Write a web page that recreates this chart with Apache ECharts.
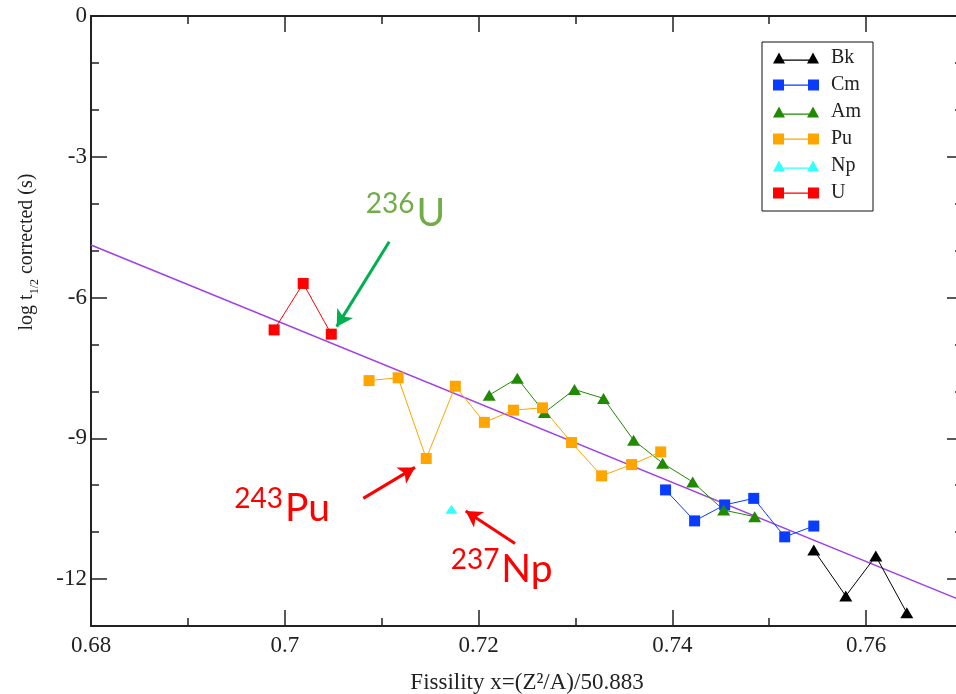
<!DOCTYPE html>
<html>
<head>
<meta charset="utf-8">
<script src="https://cdn.jsdelivr.net/npm/echarts@6/dist/echarts.min.js"></script>
<style>
  html, body { margin: 0; padding: 0; background: #fff; }
  #chart { width: 956px; height: 694px; }
</style>
</head>
<body>
<div id="chart"></div>
<script>
// Fissility x and corrected log half-life for each element's isotopes
const bkX = [0.7546, 0.7579, 0.7610, 0.7642];
const bkY = [-11.38, -12.36, -11.51, -12.72];
const cmX = [0.7393, 0.7423, 0.7454, 0.7484, 0.7516, 0.7546];
const cmY = [-10.10, -10.76, -10.42, -10.28, -11.10, -10.87];
const amX = [0.7211, 0.7240, 0.7268, 0.7299, 0.7329, 0.7360, 0.7390, 0.7421, 0.7453, 0.7485];
const amY = [-8.08, -7.72, -8.45, -7.96, -8.15, -9.04, -9.53, -9.93, -10.53, -10.67];
const puX = [0.7087, 0.7117, 0.7146, 0.7176, 0.7206, 0.7236, 0.7266, 0.7296, 0.7327, 0.7358, 0.7388];
const puY = [-7.77, -7.71, -9.43, -7.89, -8.66, -8.40, -8.35, -9.09, -9.80, -9.56, -9.29];
const npX = [0.7172];
const npY = [-10.51];
const uX = [0.6989, 0.7019, 0.7048];
const uY = [-6.69, -5.70, -6.78];

// Linear fit across the whole range
const fitX = [0.68, 0.77];
const fitY = [-4.88, -12.47];

// Axis ticks and labels
const xMajor = [0.68, 0.70, 0.72, 0.74, 0.76];
const yMajor = [-12, -9, -6, -3, 0];

// Isotope callouts: label text, label anchor, arrow tail and arrow tip
const noteSup = ['236', '243', '237'];
const noteMain = ['U', 'Pu', 'Np'];
const noteAt = [[0.70835, -4.49], [0.69479, -10.78], [0.71712, -12.09]];
const arrowFrom = [[0.71078, -4.81], [0.70810, -10.28], [0.72376, -11.24]];
const arrowTo = [[0.70536, -6.62], [0.71344, -9.62], [0.71867, -10.55]];
const noteColor = ['#70ad47', '#ff0000', '#ff0000'];
const arrowColor = ['#00b050', '#ff0000', '#ff0000'];

const serif = '"Liberation Serif", "Times New Roman", serif';
const ink = '#222';

const pts = (xs, ys) => xs.map((x, i) => [x, ys[i]]);

const sqIcon = 'path://M0,0L11,0L11,11L0,11Z M11,5L35,5L35,6.2L11,6.2Z M35,0L46,0L46,11L35,11Z';
const triIcon = 'path://M0,11L6,0L12,11Z M9,7L37,7L37,8.2L9,8.2Z M34,11L40,0L46,11Z';

function elementSeries(name, xs, ys, color, symbol, size) {
  return {
    name, type: 'line', data: pts(xs, ys),
    xAxisIndex: 0, yAxisIndex: 0,
    symbol, symbolSize: size, showSymbol: true,
    itemStyle: { color, borderWidth: 0 },
    lineStyle: { color, width: 1 },
    z: 4, silent: true, animation: false
  };
}

const tickStyle = { color: ink, width: 1.5 };
const lineStyle = { color: ink, width: 2 };

function xAx(pos, grid, major) {
  const a = {
    type: 'value', gridIndex: grid, position: pos, min: 0.68, max: 0.77,
    axisLine: { show: major, onZero: false, lineStyle },
    splitLine: { show: false },
    axisTick: { show: true, inside: true, length: major ? 16 : 8, lineStyle: tickStyle },
    axisLabel: { show: false }
  };
  if (major) {
    a.axisTick.customValues = xMajor;
    a.axisLabel = { show: false, customValues: xMajor };
  } else {
    a.interval = 0.01;
  }
  return a;
}

function yAx(pos, grid, major) {
  const a = {
    type: 'value', gridIndex: grid, position: pos, min: -13, max: 0,
    axisLine: { show: major, onZero: false, lineStyle },
    splitLine: { show: false },
    axisTick: { show: true, inside: true, length: major ? 16 : 8, lineStyle: tickStyle },
    axisLabel: { show: false }
  };
  if (major) {
    a.axisTick.customValues = yMajor;
    a.axisLabel = { show: false, customValues: yMajor };
  } else {
    a.interval = 1;
  }
  return a;
}

// The plot frame runs a little past the right edge of the page
const gridBox = { left: 91, top: 16, width: 872, height: 610, outerBoundsMode: 'none', containLabel: false };

const xBottom = xAx('bottom', 0, true);
xBottom.axisLabel = {
  show: true, customValues: xMajor, margin: 8,
  fontFamily: serif, fontSize: 23, color: ink,
  formatter: v => String(+(+v).toFixed(2))
};
xBottom.name = 'Fissility x=(Z²/A)/50.883';
xBottom.nameLocation = 'middle';
xBottom.nameGap = 45;
xBottom.nameTextStyle = { fontFamily: serif, fontSize: 23, color: ink };

const yLeft = yAx('left', 0, true);
yLeft.axisLabel = {
  show: true, customValues: yMajor, margin: 4,
  fontFamily: serif, fontSize: 23, color: ink
};
yLeft.name = '{a|log t}{s|1/2}{a| corrected (s)}';
yLeft.nameLocation = 'middle';
yLeft.nameRotate = 90;
yLeft.nameGap = 50;
yLeft.nameTextStyle = {
  fontFamily: serif, fontSize: 20, color: ink, padding: [0, 0, 0, 138],
  rich: {
    a: { fontFamily: serif, fontSize: 20, color: ink, verticalAlign: 'bottom', padding: [0, 0, 4, 0] },
    s: { fontFamily: serif, fontSize: 12, color: ink, verticalAlign: 'bottom' }
  }
};

const arrowData = arrowFrom.map((p, i) => [
  { coord: p, lineStyle: { color: arrowColor[i], width: 3, type: 'solid' } },
  { coord: arrowTo[i] }
]);

const option = {
  animation: false,
  backgroundColor: '#fff',
  grid: [Object.assign({}, gridBox), Object.assign({}, gridBox)],
  xAxis: [xBottom, xAx('top', 0, true), xAx('bottom', 1, false), xAx('top', 1, false)],
  yAxis: [yLeft, yAx('right', 0, true), yAx('left', 1, false), yAx('right', 1, false)],
  legend: {
    orient: 'vertical', left: 762, top: 42,
    padding: [6, 12, 8, 11], itemGap: 7,
    itemWidth: 46, itemHeight: 11,
    borderColor: '#111', borderWidth: 1, backgroundColor: '#fff',
    selectedMode: false,
    textStyle: { fontFamily: serif, fontSize: 20, color: ink, padding: [0, 0, 0, 7] },
    data: [
      { name: 'Bk', icon: triIcon }, { name: 'Cm', icon: sqIcon }, { name: 'Am', icon: triIcon },
      { name: 'Pu', icon: sqIcon }, { name: 'Np', icon: triIcon }, { name: 'U', icon: sqIcon }
    ]
  },
  series: [
    {
      name: 'fit', type: 'line', data: pts(fitX, fitY), xAxisIndex: 0, yAxisIndex: 0,
      symbol: 'none', lineStyle: { color: '#a040e8', width: 1.5 }, z: 3, silent: true,
      markLine: {
        silent: true, symbol: ['none', 'arrow'], symbolSize: [14, 16],
        label: { show: false }, animation: false,
        data: arrowData
      }
    },
    elementSeries('Bk', bkX, bkY, '#000000', 'triangle', [13, 11]),
    elementSeries('Cm', cmX, cmY, '#0a3cff', 'rect', 11),
    elementSeries('Am', amX, amY, '#208a00', 'triangle', [13, 11]),
    elementSeries('Pu', puX, puY, '#ffa500', 'rect', 11),
    elementSeries('Np', npX, npY, '#33ffff', 'triangle', [12, 9]),
    elementSeries('U', uX, uY, '#ff0000', 'rect', 11)
  ]
};

const chart = echarts.init(document.getElementById('chart'), null, { renderer: 'canvas' });
chart.setOption(option);

// Isotope labels with superscript mass numbers, anchored in data space
const graphic = noteAt.map((p, i) => {
  const px = chart.convertToPixel({ xAxisIndex: 0, yAxisIndex: 0 }, p);
  return {
    type: 'text', x: px[0], y: px[1] + 6, z: 10, silent: true,
    style: {
      text: '{s|' + noteSup[i] + '}{m|' + noteMain[i] + '}',
      fill: noteColor[i], align: 'left', verticalAlign: 'bottom',
      rich: {
        s: { fontFamily: 'Lato', fontSize: 28, fill: noteColor[i], verticalAlign: 'bottom', padding: [0, 2, 15, 0] },
        m: { fontFamily: 'Lato', fontSize: 39, fill: noteColor[i], verticalAlign: 'bottom' }
      }
    }
  };
});
chart.setOption({ graphic });
</script>
</body>
</html>
